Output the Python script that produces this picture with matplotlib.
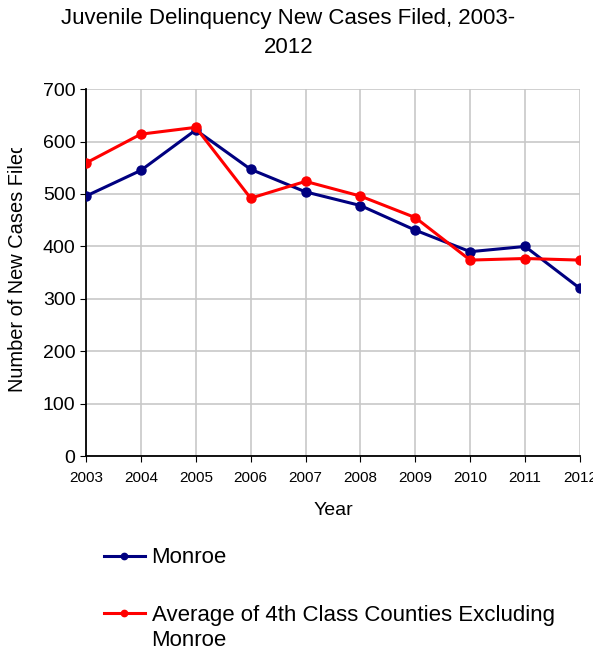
import matplotlib
matplotlib.use('Agg')
import matplotlib.pyplot as plt
from matplotlib.transforms import Bbox, IdentityTransform

plt.rcParams['font.family'] = ['Liberation Sans', 'DejaVu Sans']

years = [2003, 2004, 2005, 2006, 2007, 2008, 2009, 2010, 2011, 2012]
monroe = [496, 545, 622, 547, 504, 478, 431, 390, 400, 320]
average_4th = [559, 614, 627, 492, 524, 496, 455, 374, 377, 374]

fig = plt.figure(figsize=(5.93, 6.50), dpi=100)
ax = fig.add_axes([0.145, 0.298, 0.833, 0.565])

ax.plot(years, monroe, color='#000080', lw=2.2, marker='o', markersize=6.5,
        label='Monroe', zorder=3)
ax.plot(years, average_4th, color='#ff0000', lw=2.2, marker='o', markersize=6.5,
        label='Average of 4th Class Counties Excluding', zorder=3)

ax.set_xlim(2003, 2012)
ax.set_ylim(0, 700)
ax.set_xticks(years)
ax.set_yticks(range(0, 701, 100))
ax.tick_params(axis='x', labelsize=11, length=4.5, direction='out', pad=6)
ax.tick_params(axis='y', labelsize=14, length=4.5, direction='out', pad=3)
ax.grid(True, color='#c8c8c8', lw=1.2)
ax.set_axisbelow(True)
for side in ['top', 'right']:
    ax.spines[side].set_visible(False)
for side in ['left', 'bottom']:
    ax.spines[side].set_linewidth(1.3)

ax.set_xlabel('Year', fontsize=14, labelpad=12)
ylab = ax.set_ylabel('Number of New Cases Filed', fontsize=14.4)
ax.yaxis.set_label_coords(-0.119, 0.515)
# the original label is cut off near the top
ylab.set_clip_box(Bbox.from_extents(0, 0, 60, 650 - 148))
ylab.set_clip_on(True)

fig.text(0.486, 0.988, 'Juvenile Delinquency New Cases Filed, 2003-\n2012',
         ha='center', va='top', fontsize=16, linespacing=1.5)

leg = fig.legend(loc='upper left', bbox_to_anchor=(0.175, 0.158), frameon=False,
                 fontsize=16, handlelength=1.85, handletextpad=0.3,
                 labelspacing=1.65, borderpad=0, borderaxespad=0, markerscale=0.7)

# second line of the long legend label, aligned under the first
fig.canvas.draw()
bb = leg.get_texts()[1].get_window_extent(fig.canvas.get_renderer())
fig.text(bb.x0, bb.y0 - 4, 'Monroe', fontsize=16, ha='left', va='top',
         transform=IdentityTransform())

fig.savefig('out.png', dpi=100)
